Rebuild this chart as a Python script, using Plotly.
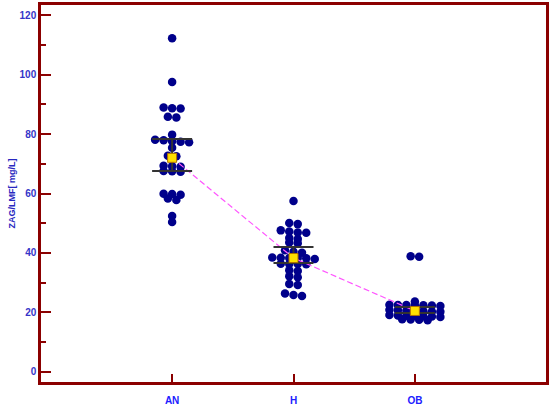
import plotly.graph_objects as go

# Data
groups = ["AN", "H", "OB"]

an_vals = [112.2, 97.5, 88.9, 88.7, 88.6, 85.8, 85.6, 79.8, 78.1, 77.9, 77.6, 77.4,
           77.2, 75.4, 72.7, 72.5, 69.3, 69.2, 69.0, 67.6, 67.5, 67.3, 59.9, 59.8,
           59.6, 58.3, 57.8, 52.4, 50.4]
h_vals = [57.5, 50.1, 49.7, 47.6, 47.2, 46.9, 46.8, 45.0, 44.7, 43.5, 43.3, 40.9,
          40.4, 40.1, 38.5, 38.4, 38.3, 38.3, 38.2, 38.0, 36.4, 36.3, 36.3, 36.2,
          34.2, 33.9, 32.2, 31.8, 29.6, 29.2, 26.4, 25.9, 25.5]
ob_vals = [38.9, 38.7, 23.7, 22.6, 22.5, 22.5, 22.4, 22.4, 22.3, 22.2, 20.9, 20.7,
           20.6, 20.5, 20.4, 20.3, 20.2, 19.1, 19.0, 18.9, 18.8, 18.7, 18.6, 18.5,
           17.7, 17.6, 17.5, 17.4]

means = [72.0, 38.3, 20.5]
ci_low = [67.6, 36.6, 19.8]
ci_high = [78.3, 42.0, 21.8]

# dot plot layout: values that lie close together share a row, spread sideways
X_PX = 121.5      # pixels per category unit
STEP = 8.5        # horizontal spacing of dots in a row, px
ROW_TOL = 1.0     # values closer than this (data units) share a row


def dot_rows(vals):
    order = sorted(range(len(vals)), key=lambda i: -vals[i])
    rows, cur = [], []
    for i in order:
        if cur and vals[cur[0]] - vals[i] >= ROW_TOL:
            rows.append(cur)
            cur = []
        cur.append(i)
    rows.append(cur)
    offs = [0.0] * len(vals)
    for row in rows:
        n = len(row)
        for j, i in enumerate(row):
            offs[i] = (j - (n - 1) / 2) * STEP / X_PX
    return offs


fig = go.Figure()

for k, vals in enumerate([an_vals, h_vals, ob_vals]):
    offs = dot_rows(vals)
    fig.add_trace(go.Scatter(
        x=[k + o for o in offs], y=vals, mode="markers",
        marker=dict(color="#00008B", size=8.5, line=dict(width=0)),
        showlegend=False, hoverinfo="y"))

# dashed line through the means
fig.add_trace(go.Scatter(
    x=list(range(len(groups))), y=means, mode="lines",
    line=dict(color="#FF55FF", width=1.2, dash="6px,3px"),
    showlegend=False, hoverinfo="skip"))

# mean with confidence interval
fig.add_trace(go.Scatter(
    x=list(range(len(groups))), y=means, mode="markers",
    marker=dict(symbol="square", color="#FFE000", size=9,
                line=dict(color="#B07000", width=1)),
    error_y=dict(type="data", symmetric=False,
                 array=[h - m for h, m in zip(ci_high, means)],
                 arrayminus=[m - l for m, l in zip(means, ci_low)],
                 color="#333333", thickness=2, width=20),
    showlegend=False))

frame = "#8B0000"

fig.update_xaxes(
    range=[-1.08, 3.08], tickvals=list(range(len(groups))), ticktext=groups,
    showline=True, linecolor=frame, linewidth=2.5, mirror=True,
    ticks="inside", ticklen=8, tickwidth=2, tickcolor=frame,
    showgrid=False, zeroline=False, ticklabelstandoff=7, automargin=False,
    tickfont=dict(family="Liberation Sans", size=10, color="#2020FF", weight="bold"))

fig.update_yaxes(
    range=[-3.4, 123.4], dtick=20, tick0=0,
    showline=True, linecolor=frame, linewidth=2.5, mirror=True,
    ticks="inside", ticklen=10, tickwidth=2, tickcolor=frame,
    minor=dict(dtick=10, ticks="inside", ticklen=5, tickwidth=1.5, tickcolor=frame, showgrid=False),
    showgrid=False, zeroline=False, automargin=False,
    tickfont=dict(family="Liberation Sans", size=10, color="#3535C8", weight="bold"))

fig.add_annotation(
    text="ZAG/LMF[ mg/L]", xref="paper", yref="paper", x=0, y=0.5,
    xshift=-30, textangle=-90, showarrow=False, xanchor="center", yanchor="middle",
    font=dict(family="Liberation Sans", size=9, color="#2828C0", weight="bold"))

fig.update_layout(
    width=550, height=409,
    margin=dict(l=41, r=4, t=5, b=27),
    plot_bgcolor="#FFFFFF", paper_bgcolor="#FFFFFF",
    showlegend=False)

# the page body has a default margin; remove it so the chart sits at the corner
fig.write_html("out.html", config={"displayModeBar": False},
               post_script="document.body.style.margin='0';")
